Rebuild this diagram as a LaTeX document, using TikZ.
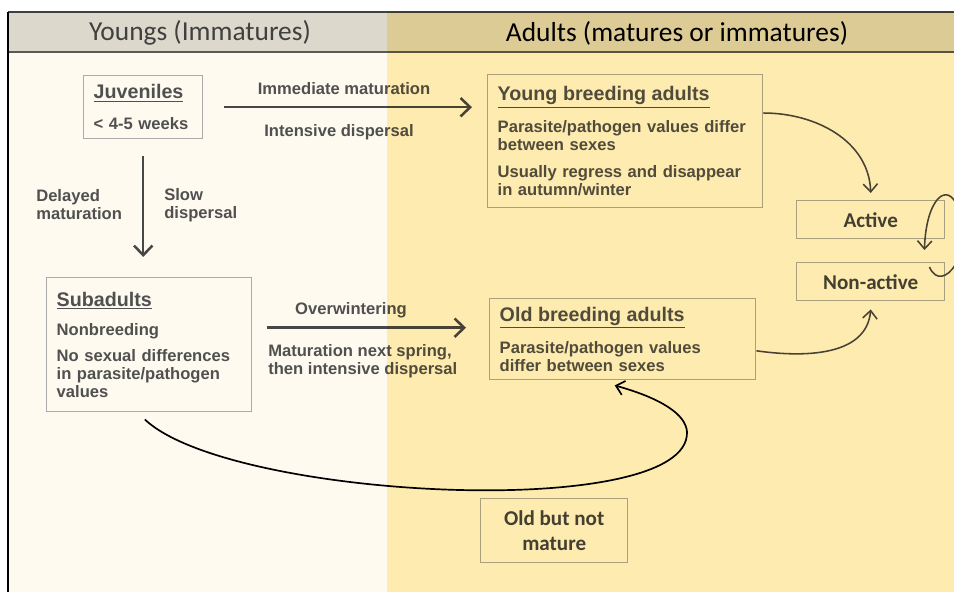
\documentclass[tikz,border=0pt]{standalone}
\usepackage{fontspec}
\setmainfont{Liberation Sans}
\newfontfamily\calibri{Carlito}
\usetikzlibrary{arrows.meta}

\definecolor{textgrey}{HTML}{505050}
\definecolor{stategrey}{HTML}{444444}
\definecolor{boxgrey}{HTML}{ABABAB}
\definecolor{headleft}{HTML}{DDD8CC}
\definecolor{bodyleft}{HTML}{FEFAF0}
\definecolor{goldtint}{HTML}{FFF0BB}
\definecolor{arrowgrey}{HTML}{474747}

\newcommand{\stagehead}[1]{{\fontsize{14}{16}\selectfont\underline{#1}}}

\tikzset{
  stagebox/.style={draw=boxgrey, line width=1pt, anchor=north west, align=left,
    inner xsep=0.25cm, text=textgrey, font=\bfseries\fontsize{11.8}{12.8}\selectfont},
  statebox/.style={draw=boxgrey, line width=1pt, anchor=north west, align=center,
    minimum width=3.7cm, text=stategrey, font=\calibri\bfseries\fontsize{15}{18.4}\selectfont},
  steplabel/.style={text=textgrey, align=left, inner sep=0pt,
    font=\bfseries\fontsize{11.8}{12.8}\selectfont},
  headtitle/.style={font=\calibri\fontsize{19.5}{22}\selectfont},
  flow/.style={draw=arrowgrey, line width=1.8pt, -{Straight Barb[length=2.4mm,width=4.6mm]}},
  curvedflow/.style={draw=arrowgrey, line width=1.1pt, -{Straight Barb[length=2mm,width=3.6mm]}},
}

\begin{document}
\begin{tikzpicture}[x=0.025cm, y=-0.025cm]
\useasboundingbox (0,0) rectangle (954,592);

% background: header band and body
\fill[headleft] (8,12) rectangle (954,52);
\fill[bodyleft] (8,52) rectangle (954,592);
\draw[line width=1pt, draw=black!75] (8,12) -- (954,12);
\draw[line width=1pt, draw=black!65] (8,52) -- (954,52);
\draw[line width=1.2pt] (8,12) -- (8,592);

\node[headtitle, text=black!75] (youngs) at (200,33) {Youngs (Immatures)};
\node[headtitle, text=black] (adults) at (677,33) {Adults (matures or immatures)};

% stages
\node[stagebox, text width=2.475cm, minimum height=1.575cm] (juv) at (83,75)
  {\stagehead{Juveniles}\\[9pt] < 4-5 weeks};
\node[stagebox, text width=6.375cm, minimum height=3.325cm] (young) at (487,74)
  {\stagehead{Young breeding adults}\\[8pt]
   Parasite/pathogen values differ\\ between sexes\\[6.4pt]
   Usually regress and disappear\\ in autumn/winter};
\node[stagebox, text width=4.625cm, minimum height=3.35cm] (sub) at (46,277)
  {\stagehead{Subadults}\\[8pt] Nonbreeding\\[5.7pt]
   No sexual differences\\ in parasite/pathogen\\ values};
\node[stagebox, text width=6.15cm, minimum height=2.025cm] (old) at (489,298)
  {\stagehead{Old breeding adults}\\[8pt] Parasite/pathogen values\\ differ between sexes};

% states
\node[statebox, minimum height=0.95cm] (active) at (796,200) {Active};
\node[statebox, minimum height=0.95cm] (nonact) at (796,262) {Non-active};
\node[statebox, minimum width=3.675cm, minimum height=1.6cm] (notmat) at (480,498)
  {Old but not\\ mature};

% transitions
\draw[flow, shorten <=0.525cm, shorten >=0.375cm] (juv.east) -- (juv.east -| young.west);
\draw[flow, shorten <=0.425cm, shorten >=0.5cm] (juv.south) -- (juv.south |- sub.north);
\draw[flow, shorten <=0.375cm, shorten >=0.575cm] ([yshift=0.425cm]sub.east) -- ([yshift=0.425cm]sub.east -| old.west);

\node[steplabel] (immed) at (344,89) {Immediate maturation};
\node[steplabel] (intens) at (339,132) {Intensive dispersal};
\node[steplabel, anchor=west] (delay) at (36,205) {Delayed\\ maturation};
\node[steplabel, anchor=west] (slow) at (164,205) {Slow\\ dispersal};
\node[steplabel] (winter) at (351,310) {Overwintering};
\node[steplabel, anchor=west] (spring) at (268,361) {Maturation next spring,\\ then intensive dispersal};

\draw[curvedflow] ([yshift=-0.975cm]young.north east) to[out=0, in=92] ([yshift=0.175cm]active.north);
\draw[curvedflow] ([yshift=-0.29cm]old.east) to[out=-8, in=-95] ([yshift=-0.2cm]nonact.south);
\draw[curvedflow] ([xshift=-0.4cm, yshift=-0.125cm]nonact.north east)
  .. controls (942,296) and (976,252) .. (958,208)
  .. controls (948,180) and (926,198) .. ([xshift=-0.525cm, yshift=0.3cm]nonact.north east);

% adult side tint
\begin{scope}[blend mode=multiply]
\fill[goldtint] (387,12) rectangle (954,592);
\end{scope}

\draw[line width=1.2pt, -{Straight Barb[length=2mm,width=3.6mm]}]
  ([xshift=-0.11cm, yshift=-0.175cm]sub.south)
  .. controls (230,500) and (690,522) .. (687,432)
  .. controls (686,414) and (660,398) .. ([xshift=-0.2cm, yshift=-0.125cm]old.south);
\end{tikzpicture}
\end{document}
